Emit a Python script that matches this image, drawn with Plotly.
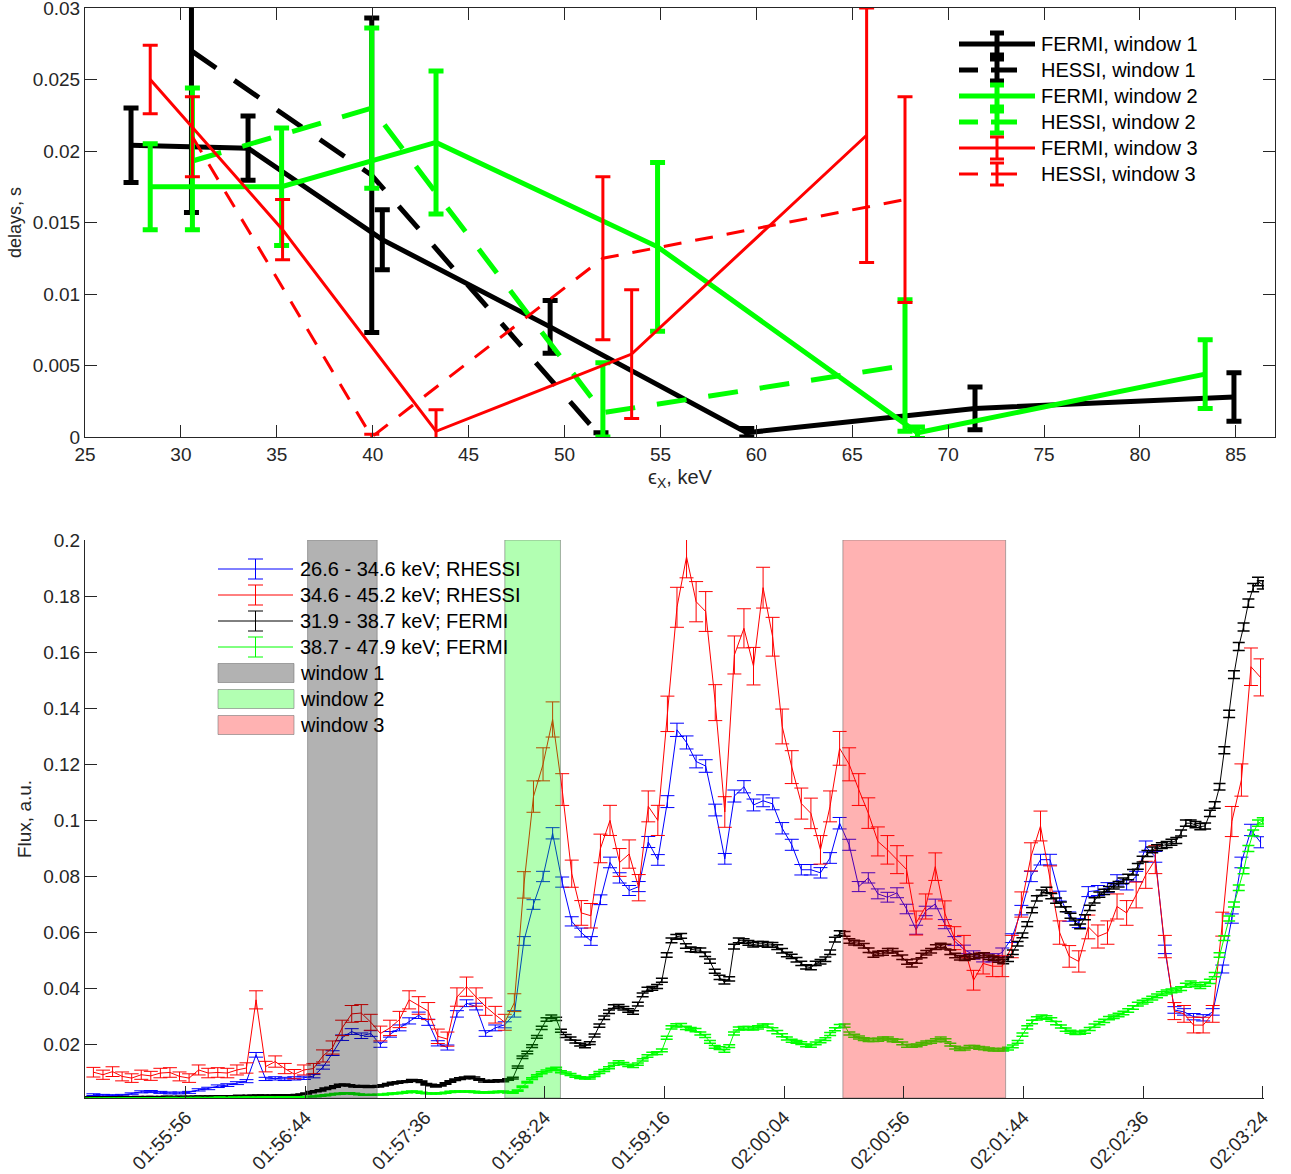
import numpy as np
import plotly.graph_objects as go

FONT = "Liberation Sans, Arial, sans-serif"
AX = "#262626"

# ---------------- upper panel: delays vs energy ----------------
fermi_w1_e = [27.4, 33.5, 40.5, 49.25, 59.5, 71.4, 84.9]
fermi_w1_d = [0.0204, 0.0202, 0.0138, 0.0077, 0.0003, 0.0020, 0.0028]
fermi_w1_err = [0.0026, 0.00225, 0.0021, 0.00185, 0.0003, 0.0015, 0.0017]

hessi_w1_e = [30.55, 39.95, 51.9]
hessi_w1_d = [0.0270, 0.0183, 0.0]
hessi_w1_err = [0.0113, 0.0110, 0.0003]

fermi_w2_e = [28.4, 35.25, 43.3, 54.85, 68.4, 83.4]
fermi_w2_d = [0.0175, 0.0175, 0.0206, 0.0133, 0.0003, 0.0044]
fermi_w2_err = [0.0030, 0.0041, 0.0050, 0.0059, 0.0004, 0.0024]

hessi_w2_e = [30.6, 39.95, 52.0, 67.75]
hessi_w2_d = [0.0193, 0.0230, 0.0017, 0.0050]
hessi_w2_err_up = [0.0051, 0.0056, 0.0035, 0.0046]
hessi_w2_err_dn = [0.0048, 0.0056, 0.0017, 0.0046]

fermi_w3_e = [28.4, 35.3, 43.3, 53.5, 65.75]
fermi_w3_d = [0.0250, 0.0145, 0.0004, 0.0058, 0.0211]
fermi_w3_err = [0.0024, 0.0021, 0.0015, 0.0045, 0.0089]

hessi_w3_e = [30.6, 39.95, 52.0, 67.75]
hessi_w3_d = [0.0210, 0.0, 0.0125, 0.0166]
hessi_w3_err = [0.0028, 0.0002, 0.0057, 0.0072]

# ---------------- lower panel: light curves ----------------
# time in seconds after 01:55:00 UT
rhessi_t0, rhessi_step = 17.5, 3.98
fermi_t0, fermi_step = 14.0, 2.0

rhessi_low = [  # 26.6 - 34.6 keV
    0.0022, 0.0020, 0.0019, 0.0020, 0.0025, 0.0032, 0.0033, 0.0030, 0.0028, 0.0028,
    0.0030, 0.0039, 0.0044, 0.0052, 0.0056, 0.0063, 0.0070, 0.0164, 0.0078, 0.0080,
    0.0078, 0.0080, 0.0082, 0.0088, 0.0120, 0.0170, 0.0225, 0.0247, 0.0232, 0.0240,
    0.0200, 0.0237, 0.0260, 0.0285, 0.0305, 0.0280, 0.0205, 0.0190, 0.0310, 0.0348,
    0.0336, 0.0240, 0.0260, 0.0271, 0.0310, 0.0570, 0.0700, 0.0800, 0.0954, 0.0780,
    0.0640, 0.0600, 0.0570, 0.0717, 0.0850, 0.0795, 0.0750, 0.0764, 0.0923, 0.0859,
    0.1067, 0.1323, 0.1278, 0.1210, 0.1194, 0.1037, 0.0863, 0.1087, 0.1120, 0.1055,
    0.1070, 0.1059, 0.0972, 0.0913, 0.0824, 0.0824, 0.0813, 0.0866, 0.0990, 0.0913,
    0.0764, 0.0795, 0.0738, 0.0726, 0.0742, 0.0684, 0.0610, 0.0677, 0.0702, 0.0630,
    0.0570, 0.0540, 0.0520, 0.0510, 0.0510, 0.0530, 0.0580, 0.0680, 0.0800, 0.0860,
    0.0860, 0.0730, 0.0657, 0.0634, 0.0746, 0.0750, 0.0760, 0.0788, 0.0770, 0.0800,
    0.0907, 0.0870, 0.0540, 0.0324, 0.0317, 0.0300, 0.0296, 0.0317, 0.0470, 0.0650,
    0.0850, 0.0966, 0.0922,
]
rhessi_high = [  # 34.6 - 45.2 keV
    0.0102, 0.0093, 0.0104, 0.0087, 0.0081, 0.0093, 0.0089, 0.0099, 0.0101, 0.0087,
    0.0081, 0.0110, 0.0099, 0.0101, 0.0099, 0.0110, 0.0117, 0.0360, 0.0122, 0.0140,
    0.0115, 0.0095, 0.0110, 0.0115, 0.0160, 0.0190, 0.0260, 0.0310, 0.0313, 0.0280,
    0.0240, 0.0260, 0.0290, 0.0360, 0.0340, 0.0320, 0.0230, 0.0220, 0.0370, 0.0407,
    0.0370, 0.0336, 0.0307, 0.0280, 0.0350, 0.0770, 0.1085, 0.1200, 0.1360, 0.1110,
    0.0810, 0.0670, 0.0660, 0.0900, 0.1000, 0.0850, 0.0880, 0.0760, 0.1050, 0.1000,
    0.1380, 0.1760, 0.1940, 0.1780, 0.1745, 0.1420, 0.1030, 0.1590, 0.1685, 0.1550,
    0.1830, 0.1655, 0.1335, 0.1190, 0.1060, 0.1025, 0.0895, 0.1050, 0.1257, 0.1200,
    0.1110, 0.1026, 0.0925, 0.0895, 0.0860, 0.0825, 0.0634, 0.0693, 0.0835, 0.0669,
    0.0580, 0.0550, 0.0430, 0.0490, 0.0480, 0.0480, 0.0550, 0.0700, 0.0870, 0.0980,
    0.0790, 0.0600, 0.0515, 0.0497, 0.0620, 0.0586, 0.0600, 0.0693, 0.0670, 0.0734,
    0.0806, 0.0860, 0.0550, 0.0320, 0.0310, 0.0270, 0.0270, 0.0310, 0.0630, 0.0996,
    0.1144, 0.1548, 0.1510,
]
fermi_low = [  # 31.9 - 38.7 keV
    0.0012, 0.0012, 0.0013, 0.0012, 0.0013, 0.0013, 0.0012, 0.0013, 0.0014, 0.0013,
    0.0013, 0.0014, 0.0013, 0.0014, 0.0014, 0.0013, 0.0014, 0.0015, 0.0014, 0.0014,
    0.0015, 0.0014, 0.0015, 0.0015, 0.0016, 0.0015, 0.0016, 0.0016, 0.0017, 0.0016,
    0.0017, 0.0017, 0.0018, 0.0017, 0.0018, 0.0018, 0.0019, 0.0019, 0.0018, 0.0019,
    0.0020, 0.0019, 0.0020, 0.0020, 0.0021,
    0.0023, 0.0026, 0.0031, 0.0034, 0.0037, 0.0043, 0.0046, 0.0051, 0.0056, 0.0057,
    0.0055, 0.0052, 0.0051, 0.0052, 0.0050, 0.0051, 0.0052, 0.0055, 0.0059, 0.0063,
    0.0065, 0.0068, 0.0069, 0.0073, 0.0072, 0.0068, 0.0059, 0.0056, 0.0052, 0.0055,
    0.0062, 0.0069, 0.0075, 0.0079, 0.0082, 0.0084, 0.0082, 0.0076, 0.0070, 0.0069,
    0.0070, 0.0072, 0.0071, 0.0076, 0.0081,
    0.0120, 0.0155, 0.0172, 0.0195, 0.0228, 0.0260, 0.0290, 0.0300, 0.0292, 0.0250,
    0.0231, 0.0222, 0.0211, 0.0200, 0.0194, 0.0206, 0.0233, 0.0268, 0.0296, 0.0318,
    0.0336, 0.0337, 0.0330, 0.0322, 0.0315, 0.0345, 0.0378, 0.0398, 0.0401, 0.0408,
    0.0430, 0.0520, 0.0572, 0.0585, 0.0588, 0.0552, 0.0540, 0.0538, 0.0537, 0.0523,
    0.0498, 0.0462, 0.0440, 0.0424, 0.0435, 0.0550, 0.0572, 0.0570, 0.0563, 0.0557,
    0.0560, 0.0560, 0.0556, 0.0556, 0.0548, 0.0535, 0.0522, 0.0515, 0.0503, 0.0490,
    0.0478, 0.0475, 0.0490, 0.0496, 0.0505, 0.0530, 0.0575, 0.0598, 0.0595, 0.0570,
    0.0564, 0.0562, 0.0553, 0.0537, 0.0520, 0.0525, 0.0527, 0.0535, 0.0535, 0.0525,
    0.0512, 0.0495, 0.0485, 0.0498, 0.0518, 0.0528, 0.0535, 0.0548, 0.0554, 0.0550,
    0.0530, 0.0518, 0.0510, 0.0508, 0.0513, 0.0515, 0.0518, 0.0520, 0.0512, 0.0508,
    0.0502, 0.0497, 0.0505, 0.0530, 0.0560, 0.0590, 0.0630, 0.0680, 0.0722, 0.0742,
    0.0752, 0.0730, 0.0714, 0.0700, 0.0683, 0.0660, 0.0636, 0.0622, 0.0655, 0.0688,
    0.0715, 0.0735, 0.0745, 0.0755, 0.0765, 0.0772, 0.0785, 0.0798, 0.0815, 0.0836,
    0.0862, 0.0882, 0.0895, 0.0903, 0.0910, 0.0914, 0.0922, 0.0928, 0.0955, 0.0990,
    0.0990, 0.0985, 0.0978, 0.0980, 0.1025, 0.1055, 0.1120, 0.1250, 0.1380, 0.1520,
    0.1620, 0.1690, 0.1775, 0.1830, 0.1852, 0.1840,
]
fermi_high = [  # 38.7 - 47.9 keV
    0.0008, 0.0008, 0.0009, 0.0008, 0.0009, 0.0009, 0.0008, 0.0009, 0.0009, 0.0010,
    0.0009, 0.0010, 0.0009, 0.0010, 0.0010, 0.0009, 0.0010, 0.0010, 0.0011, 0.0010,
    0.0010, 0.0011, 0.0010, 0.0011, 0.0011, 0.0010, 0.0011, 0.0011, 0.0012, 0.0011,
    0.0011, 0.0012, 0.0011, 0.0012, 0.0012, 0.0011, 0.0012, 0.0012, 0.0013, 0.0012,
    0.0012, 0.0013, 0.0012, 0.0013, 0.0013,
    0.0013, 0.0014, 0.0015, 0.0016, 0.0018, 0.0020, 0.0022, 0.0024, 0.0025, 0.0027,
    0.0027, 0.0025, 0.0023, 0.0021, 0.0021, 0.0021, 0.0022, 0.0022, 0.0024, 0.0026,
    0.0027, 0.0029, 0.0031, 0.0033, 0.0032, 0.0029, 0.0027, 0.0026, 0.0026, 0.0027,
    0.0029, 0.0032, 0.0033, 0.0033, 0.0033, 0.0033, 0.0032, 0.0030, 0.0030, 0.0030,
    0.0031, 0.0032, 0.0033, 0.0030, 0.0029,
    0.0036, 0.0050, 0.0066, 0.0079, 0.0090, 0.0100, 0.0106, 0.0112, 0.0116, 0.0104,
    0.0099, 0.0094, 0.0087, 0.0083, 0.0081, 0.0081, 0.0090, 0.0101, 0.0108, 0.0118,
    0.0131, 0.0139, 0.0133, 0.0126, 0.0123, 0.0131, 0.0146, 0.0160, 0.0169, 0.0170,
    0.0180, 0.0225, 0.0262, 0.0269, 0.0270, 0.0260, 0.0256, 0.0252, 0.0240, 0.0231,
    0.0210, 0.0192, 0.0188, 0.0178, 0.0195, 0.0240, 0.0258, 0.0259, 0.0259, 0.0258,
    0.0262, 0.0268, 0.0268, 0.0255, 0.0245, 0.0234, 0.0222, 0.0214, 0.0210, 0.0206,
    0.0198, 0.0196, 0.0205, 0.0212, 0.0220, 0.0238, 0.0255, 0.0266, 0.0268, 0.0240,
    0.0232, 0.0226, 0.0220, 0.0217, 0.0217, 0.0218, 0.0222, 0.0222, 0.0216, 0.0214,
    0.0205, 0.0196, 0.0196, 0.0198, 0.0203, 0.0208, 0.0210, 0.0216, 0.0222, 0.0216,
    0.0200, 0.0190, 0.0184, 0.0186, 0.0192, 0.0192, 0.0189, 0.0187, 0.0184, 0.0182,
    0.0182, 0.0182, 0.0186, 0.0194, 0.0210, 0.0236, 0.0262, 0.0281, 0.0294, 0.0300,
    0.0297, 0.0290, 0.0277, 0.0265, 0.0254, 0.0246, 0.0242, 0.0243, 0.0246, 0.0256,
    0.0268, 0.0277, 0.0285, 0.0295, 0.0300, 0.0306, 0.0313, 0.0322, 0.0333, 0.0345,
    0.0352, 0.0358, 0.0366, 0.0374, 0.0382, 0.0388, 0.0392, 0.0395, 0.0400, 0.0412,
    0.0420, 0.0414, 0.0408, 0.0416, 0.0426, 0.0450, 0.0520, 0.0580, 0.0650, 0.0700,
    0.0760, 0.0820, 0.0900, 0.0955, 0.0990, 0.0998,
]

# counting-statistics error scale (error ~ sqrt(flux))
rhessi_low_errscale = 0.0065
rhessi_high_errscale = 0.017
fermi_errscale = 0.0035

# analysis windows (s after 01:55:00)
windows = [("window 1", 106.6, 135.55, "rgba(0,0,0,0.3)"),
           ("window 2", 188.66, 211.8, "rgba(0,255,0,0.3)"),
           ("window 3", 329.3, 397.0, "rgba(255,0,0,0.3)")]

time_ticks = ["01:55:56", "01:56:44", "01:57:36", "01:58:24", "01:59:16",
              "02:00:04", "02:00:56", "02:01:44", "02:02:36", "02:03:24"]
time_tick_pos = [56.0, 105.8, 155.6, 205.3, 255.1, 304.9, 354.7, 404.4, 454.2, 504.0]

GREEN = "#00ff00"
DASH_THICK = "30px,22px"
DASH_THIN = "18px,14px"

fig = go.Figure()


def delay_trace(name, e, d, eplus, eminus, color, width, dash):
    fig.add_trace(go.Scatter(
        x=e, y=d, name=name, mode="lines", showlegend=False,
        line=dict(color=color, width=width, dash=dash),
        error_y=dict(type="data", array=eplus, arrayminus=eminus, symmetric=False,
                     color=color, thickness=width, width=7.5),
        xaxis="x", yaxis="y"))


top_series = [
    ("FERMI, window 1", fermi_w1_e, fermi_w1_d, fermi_w1_err, fermi_w1_err, "black", 5, False),
    ("HESSI, window 1", hessi_w1_e, hessi_w1_d, hessi_w1_err, hessi_w1_err, "black", 5, True),
    ("FERMI, window 2", fermi_w2_e, fermi_w2_d, fermi_w2_err, fermi_w2_err, GREEN, 5, False),
    ("HESSI, window 2", hessi_w2_e, hessi_w2_d, hessi_w2_err_up, hessi_w2_err_dn, GREEN, 5, True),
    ("FERMI, window 3", fermi_w3_e, fermi_w3_d, fermi_w3_err, fermi_w3_err, "red", 3, False),
    ("HESSI, window 3", hessi_w3_e, hessi_w3_d, hessi_w3_err, hessi_w3_err, "red", 3, True),
]
for name, e, d, ep, em, col, w, dashed in top_series:
    delay_trace(name, e, d, ep, em, col, w,
                ("solid" if not dashed else (DASH_THICK if w > 4 else DASH_THIN)))


def curve_trace(name, t0, step, vals, errscale, color, capw, thick):
    v = np.asarray(vals)
    t = t0 + step * np.arange(len(v))
    fig.add_trace(go.Scatter(
        x=t, y=v, name=name, mode="lines", showlegend=False,
        line=dict(color=color, width=1),
        error_y=dict(type="data", array=errscale * np.sqrt(v), color=color,
                     thickness=thick, width=capw),
        xaxis="x2", yaxis="y2"))


bottom_series = [
    ("26.6 - 34.6 keV; RHESSI", rhessi_t0, rhessi_step, rhessi_low, rhessi_low_errscale, "blue", 7, 1),
    ("34.6 - 45.2 keV; RHESSI", rhessi_t0, rhessi_step, rhessi_high, rhessi_high_errscale, "red", 7, 1),
    ("31.9 - 38.7 keV; FERMI", fermi_t0, fermi_step, fermi_low, fermi_errscale, "black", 6, 1.5),
    ("38.7 - 47.9 keV; FERMI", fermi_t0, fermi_step, fermi_high, fermi_errscale, GREEN, 6, 1.5),
]
for args in bottom_series:
    curve_trace(*args)

Y2MIN, Y2MAX = 0.001, 0.2
EDGE = "rgba(110,110,110,0.55)"
for name, a, b, col in windows:
    fig.add_trace(go.Scatter(
        x=[a, b, b, a, a], y=[Y2MIN, Y2MIN, Y2MAX, Y2MAX, Y2MIN],
        mode="lines", fill="toself", fillcolor=col, name=name, showlegend=False,
        line=dict(color=EDGE, width=1),
        xaxis="x2", yaxis="y2", hoverinfo="skip"))

W, H = 1291, 1174
ML, MR, MT, MB = 85, 16, 8, 76
PH = H - MT - MB
PW = W - ML - MR


def py(pix):  # pixel row -> paper fraction
    return (H - MB - pix) / PH


def px(pix):  # pixel column -> paper fraction
    return (pix - ML) / PW


# ---------------- legends (drawn in paper space) ----------------
shapes = []
annotations = []
LEG_FONT = dict(family=FONT, size=20, color="black")


def pline(x0, x1, y0, y1, color, width, dash="solid"):
    shapes.append(dict(type="line", xref="paper", yref="paper",
                       x0=px(x0), x1=px(x1), y0=py(y0), y1=py(y1),
                       line=dict(color=color, width=width, dash=dash)))


def errglyph(xc, yc, half_h, half_w, color, width):
    pline(xc, xc, yc - half_h, yc + half_h, color, width)
    pline(xc - half_w, xc + half_w, yc - half_h, yc - half_h, color, width)
    pline(xc - half_w, xc + half_w, yc + half_h, yc + half_h, color, width)


def label(x, y, text):
    annotations.append(dict(xref="paper", yref="paper", x=px(x), y=py(y),
                            xanchor="left", yanchor="middle", text=text,
                            showarrow=False, font=LEG_FONT))


top_rows = [44, 70, 96, 122, 148, 174]
for (name, _e, _d, _ep, _em, col, w, dashed), yc in zip(top_series, top_rows):
    if dashed:
        pline(959, 978, yc, yc, col, w)
        pline(991, 1017, yc, yc, col, w)
    else:
        pline(959, 1035, yc, yc, col, w)
    errglyph(997, yc, 11, 7, col, w)
    label(1039, yc, name)

bot_rows = [569, 595, 621, 647]
for (name, _t0, _st, _v, _es, col, _cw, _th), yc in zip(bottom_series, bot_rows):
    pline(218, 293, yc, yc, col, 1)
    errglyph(255.5, yc, 10, 7.5, col, 1)
    label(298, yc, name)

win_rows = [673, 699, 725]
for (name, _a, _b, col), yc in zip(windows, win_rows):
    shapes.append(dict(type="rect", xref="paper", yref="paper",
                       x0=px(218), x1=px(294), y0=py(yc - 9.5), y1=py(yc + 9.5),
                       fillcolor=col, line=dict(color=EDGE, width=1)))
    label(298, yc, name)

tickfont = dict(family=FONT, size=19, color=AX)
common = dict(showline=True, linecolor=AX, linewidth=1, ticks="inside", ticklen=12,
              tickcolor=AX, showgrid=False, zeroline=False, tickfont=tickfont,
              automargin=False, ticklabeloverflow="allow")

fig.update_layout(
    width=W, height=H, margin=dict(l=ML, r=MR, t=MT, b=MB, autoexpand=False),
    paper_bgcolor="white", plot_bgcolor="white",
    font=dict(family=FONT, color=AX),
    showlegend=False,
    shapes=shapes, annotations=annotations,
    xaxis=dict(domain=[0, 1], anchor="y", range=[25, 87.04], tickvals=list(range(25, 90, 5)),
               mirror="ticks",
               title=dict(text="ϵ<sub>X</sub>, keV", font=dict(family=FONT, size=20, color=AX), standoff=6),
               **common),
    yaxis=dict(domain=[py(437), py(8)], anchor="x", range=[0, 0.03],
               tickvals=[0, 0.005, 0.01, 0.015, 0.02, 0.025, 0.03],
               ticktext=["0", "0.005", "0.01", "0.015", "0.02", "0.025", "0.03"],
               mirror="ticks",
               title=dict(text="delays, s", font=dict(family=FONT, size=18, color=AX), standoff=6),
               **common),
    xaxis2=dict(domain=[0, px(1264)], anchor="y2", range=[14, 504.5],
                tickvals=time_tick_pos, ticktext=time_ticks, tickangle=-45,
                **common),
    yaxis2=dict(domain=[0, py(540)], anchor="x2", range=[Y2MIN, Y2MAX],
                tickvals=[0.02 * i for i in range(1, 11)],
                ticktext=["0.02", "0.04", "0.06", "0.08", "0.1", "0.12", "0.14", "0.16", "0.18", "0.2"],
                title=dict(text="Flux, a.u.", font=dict(family=FONT, size=19, color=AX), standoff=6),
                **common),
)

fig.write_html("out.html")
